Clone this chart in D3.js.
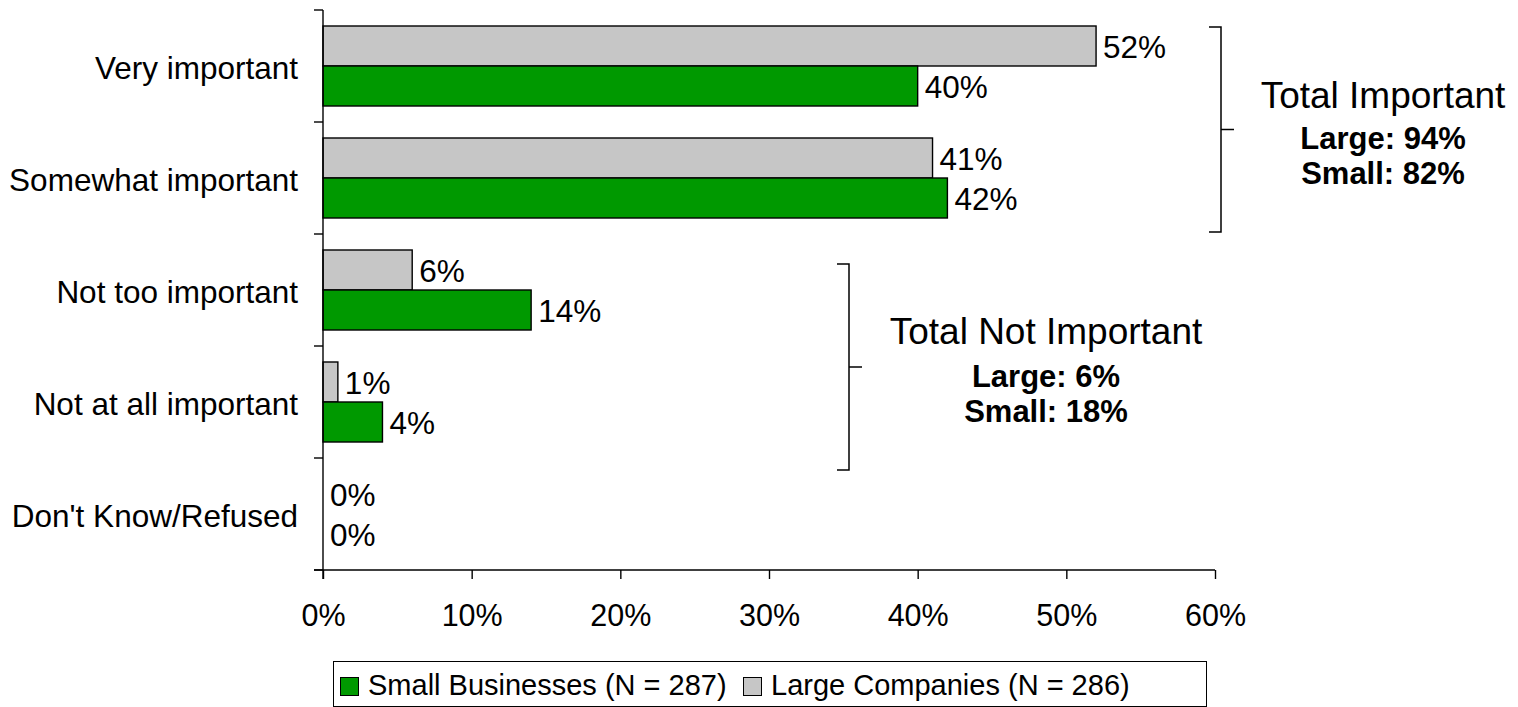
<!DOCTYPE html>
<html>
<head>
<meta charset="utf-8">
<script src="https://cdn.jsdelivr.net/npm/d3@7"></script>
<style>
  html, body { margin: 0; padding: 0; background: #fff; }
  svg { display: block; font-family: "Liberation Sans", Arial, sans-serif; }
</style>
</head>
<body>
<svg id="chart" width="1518" height="707"></svg>
<script>
// Importance ratings, percent of respondents
const categories = ["Very important", "Somewhat important", "Not too important", "Not at all important", "Don't Know/Refused"];
const largeValues = [52, 41, 6, 1, 0];
const smallValues = [40, 42, 14, 4, 0];
const xTicks = [0, 10, 20, 30, 40, 50, 60];
const seriesNames = ["Small Businesses (N = 287)", "Large Companies (N = 286)"];
const seriesColors = { small: "#009900", large: "#c6c6c6" };

// Bracketed totals
const totals = [
  { title: "Total Important", lines: ["Large: 94%", "Small: 82%"] },
  { title: "Total Not Important", lines: ["Large: 6%", "Small: 18%"] }
];

(function () {
const svg = d3.select("#chart");
const plotLeft = 323, plotRight = 1215, plotTop = 10, plotBottom = 570;
const labelSize = 31.5, tickSize = 30.5;

const x = d3.scaleLinear().domain([0, 60]).range([plotLeft, plotRight]);
const y = d3.scaleBand().domain(categories).range([plotTop, plotBottom]).paddingInner(0).paddingOuter(0);
const inner = d3.scaleBand().domain(["large", "small"]).range([0, y.bandwidth()]).paddingInner(0).paddingOuter(0.4);

const rows = categories.map((c, i) => ({ cat: c, large: largeValues[i], small: smallValues[i] }));

// Bars with value labels
const g = svg.append("g");
rows.forEach(r => {
  ["large", "small"].forEach(k => {
    const y0 = y(r.cat) + inner(k);
    if (r[k] > 0) {
      g.append("rect")
        .attr("x", x(0)).attr("y", y0)
        .attr("width", x(r[k]) - x(0)).attr("height", inner.bandwidth())
        .attr("fill", seriesColors[k]).attr("stroke", "#000").attr("stroke-width", 1.4);
    }
    g.append("text")
      .attr("x", x(r[k]) + 7).attr("y", y0 + inner.bandwidth() / 2 + 1)
      .attr("dy", "0.35em").attr("font-size", labelSize).attr("fill", "#000")
      .text(r[k] + "%");
  });
});

// Category axis
const yAxis = svg.append("g").attr("transform", `translate(${plotLeft},0)`);
yAxis.append("line").attr("x1", 0).attr("x2", 0).attr("y1", plotTop).attr("y2", plotBottom + 9)
  .attr("stroke", "#000").attr("stroke-width", 1.4);
d3.range(categories.length + 1).forEach(i => {
  const yy = plotTop + i * y.step();
  yAxis.append("line").attr("x1", -9).attr("x2", 0).attr("y1", yy).attr("y2", yy)
    .attr("stroke", "#000").attr("stroke-width", 1.4);
});
categories.forEach(c => {
  yAxis.append("text").attr("x", -25).attr("y", y(c) + y.bandwidth() / 2 + 2)
    .attr("dy", "0.35em").attr("text-anchor", "end").attr("font-size", labelSize).text(c);
});

// Value axis
const xAxis = svg.append("g").attr("transform", `translate(0,${plotBottom})`)
  .call(d3.axisBottom(x).tickValues(xTicks).tickFormat(d => d + "%").tickSize(9).tickPadding(25));
xAxis.select(".domain").attr("stroke", "#000").attr("stroke-width", 1.4).attr("d", `M${plotLeft - 9},0H${plotRight}`);
xAxis.selectAll(".tick line").attr("stroke", "#000").attr("stroke-width", 1.4);
xAxis.selectAll(".tick text").attr("font-size", tickSize).attr("fill", "#000")
  .attr("font-family", "Liberation Sans, Arial, sans-serif");

// Brackets with totals
const bracketGeom = [
  { x: 1221, y1: 27, y2: 232, tx: 1383, dt: 0 },
  { x: 849, y1: 264, y2: 470, tx: 1046, dt: -2 }
];
totals.forEach((t, i) => {
  const b = bracketGeom[i];
  const mid = (b.y1 + b.y2) / 2;
  const bg = svg.append("g").attr("stroke", "#000").attr("stroke-width", 1.5).attr("fill", "none");
  bg.append("path").attr("d", `M${b.x - 12},${b.y1}H${b.x}V${b.y2}H${b.x - 12}`);
  bg.append("line").attr("x1", b.x).attr("x2", b.x + 13).attr("y1", mid).attr("y2", mid);
  svg.append("text").attr("x", b.tx).attr("y", mid - 21.5 + b.dt)
    .attr("text-anchor", "middle").attr("font-size", 37).text(t.title);
  t.lines.forEach((l, j) => {
    svg.append("text").attr("x", b.tx).attr("y", mid + 19.5 + j * 35)
      .attr("text-anchor", "middle").attr("font-size", 31).attr("font-weight", "bold").text(l);
  });
});

// Legend
const legend = svg.append("g");
legend.append("rect").attr("x", 333.5).attr("y", 661.5).attr("width", 873).attr("height", 45)
  .attr("fill", "#fff").attr("stroke", "#000").attr("stroke-width", 1);
const legendItems = [
  { name: seriesNames[0], color: seriesColors.small, x: 340 },
  { name: seriesNames[1], color: seriesColors.large, x: 743 }
];
legendItems.forEach(it => {
  legend.append("rect").attr("x", it.x + 0.5).attr("y", 677.5).attr("width", 18).attr("height", 18)
    .attr("fill", it.color).attr("stroke", "#000").attr("stroke-width", 1);
  legend.append("text").attr("x", it.x + 28).attr("y", 695)
    .attr("font-size", 29).text(it.name);
});
})();
</script>
</body>
</html>
